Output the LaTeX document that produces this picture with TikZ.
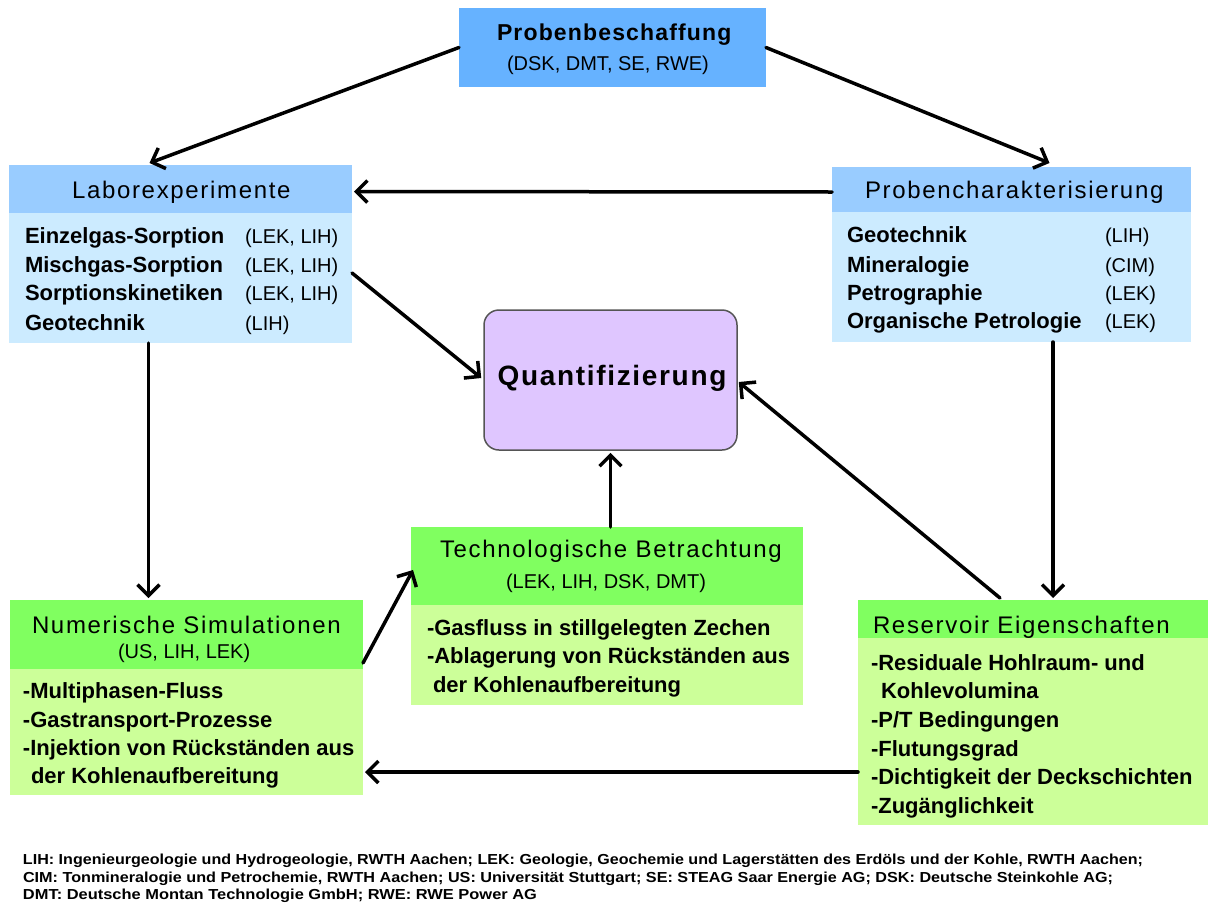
\documentclass[tikz,border=0pt]{standalone}
\usepackage{fontspec}
\setmainfont{Liberation Sans}
\newfontfamily\ttlfont[LetterSpace=7]{Liberation Sans}
\newfontfamily\pbfont[LetterSpace=5]{Liberation Sans}
\newfontfamily\qfont[LetterSpace=6]{Liberation Sans}
\usetikzlibrary{arrows.meta,calc}
\definecolor{pbblue}{HTML}{66B2FF}
\definecolor{hdrblue}{HTML}{99CCFF}
\definecolor{bodyblue}{HTML}{CCEBFF}
\definecolor{hdrgreen}{HTML}{80FF60}
\definecolor{bodygreen}{HTML}{CCFF99}
\definecolor{qfill}{HTML}{DFC6FF}
\definecolor{qborder}{HTML}{555555}
\tikzset{
  box/.style={rectangle, draw=none, inner sep=0pt, outer sep=0pt},
  txt/.style={anchor=base west, inner sep=0pt, outer sep=0pt},
  ttl/.style={txt, font=\ttlfont\fontsize{24}{28}\selectfont},
  sub/.style={txt, font=\fontsize{20}{24}\selectfont},
  itm/.style={txt, font=\bfseries\fontsize{22}{26}\selectfont},
  foot/.style={txt, font=\bfseries\fontsize{14}{16}\selectfont},
  arr/.style={line width=3.5pt, line cap=round, -{Straight Barb[length=11pt,width=22pt,line width=3.5pt]}}
}
\begin{document}
\begin{tikzpicture}[x=1pt,y=-1pt]
\useasboundingbox (0,0) rectangle (1208,908);
\fill[white] (0,0) rectangle (1208,908);

% Probenbeschaffung
\node[box, fill=pbblue, minimum width=307pt, minimum height=79pt] (pb) at (612.5,47.5) {};
\node[txt, font=\pbfont\bfseries\fontsize{23}{26}\selectfont] (pbt) at (497,40) {Probenbeschaffung};
\node[sub] (pbs) at (507,70) {(DSK, DMT, SE, RWE)};

% Laborexperimente
\node[box, fill=hdrblue, minimum width=343pt, minimum height=48pt] (labH) at (180.5,189) {};
\node[box, fill=bodyblue, minimum width=343pt, minimum height=130pt] (labB) at (180.5,278) {};
\node[ttl] (labt) at (72,198) {Laborexperimente};
\node[itm] (lab1) at (25,243) {Einzelgas-Sorption};
\node[itm] (lab2) at (25,272) {Mischgas-Sorption};
\node[itm] (lab3) at (25,300) {Sorptionskinetiken};
\node[itm] (lab4) at (25,330) {Geotechnik};
\node[sub] (lab1p) at (245,243) {(LEK, LIH)};
\node[sub] (lab2p) at (245,272) {(LEK, LIH)};
\node[sub] (lab3p) at (245,300) {(LEK, LIH)};
\node[sub] (lab4p) at (245,330) {(LIH)};

% Probencharakterisierung
\node[box, fill=hdrblue, minimum width=359pt, minimum height=45pt] (pcH) at (1011.5,189.5) {};
\node[box, fill=bodyblue, minimum width=359pt, minimum height=130pt] (pcB) at (1011.5,277) {};
\node[ttl] (pct) at (865,198) {Probencharakterisierung};
\node[itm] (pc1) at (847,242) {Geotechnik};
\node[itm] (pc2) at (847,272) {Mineralogie};
\node[itm] (pc3) at (847,300) {Petrographie};
\node[itm] (pc4) at (847,328) {Organische Petrologie};
\node[sub] (pc1p) at (1105,242) {(LIH)};
\node[sub] (pc2p) at (1105,272) {(CIM)};
\node[sub] (pc3p) at (1105,300) {(LEK)};
\node[sub] (pc4p) at (1105,328) {(LEK)};

% Quantifizierung
\node[rectangle, rounded corners=15pt, draw=qborder, line width=1.5pt, fill=qfill,
      minimum width=253pt, minimum height=140pt, inner sep=0pt] (q) at (610.5,380) {};
\node[inner sep=0pt, font=\qfont\bfseries\fontsize{28}{30}\selectfont] (qt) at (612,378) {Quantifizierung};

% Technologische Betrachtung
\node[box, fill=hdrgreen, minimum width=392pt, minimum height=78pt] (tbH) at (607,566) {};
\node[box, fill=bodygreen, minimum width=392pt, minimum height=100pt] (tbB) at (607,655) {};
\node[ttl] (tbt) at (440,557) {Technologische Betrachtung};
\node[sub] (tbs) at (506,588) {(LEK, LIH, DSK, DMT)};
\node[itm] (tb1) at (427,635) {-Gasfluss in stillgelegten Zechen};
\node[itm] (tb2) at (427,663) {-Ablagerung von Rückständen aus};
\node[itm] (tb3) at (433,692) {der Kohlenaufbereitung};

% Numerische Simulationen
\node[box, fill=hdrgreen, minimum width=353pt, minimum height=69pt] (nsH) at (186.5,634.5) {};
\node[box, fill=bodygreen, minimum width=353pt, minimum height=126pt] (nsB) at (186.5,732) {};
\node[ttl] (nst) at (32,633) {Numerische Simulationen};
\node[sub] (nss) at (118,658) {(US, LIH, LEK)};
\node[itm] (ns1) at (23,698) {-Multiphasen-Fluss};
\node[itm] (ns2) at (23,727) {-Gastransport-Prozesse};
\node[itm] (ns3) at (23,755) {-Injektion von Rückständen aus};
\node[itm] (ns4) at (31,783) {der Kohlenaufbereitung};

% Reservoir Eigenschaften
\node[box, fill=hdrgreen, minimum width=350pt, minimum height=38pt] (reH) at (1033,619) {};
\node[box, fill=bodygreen, minimum width=350pt, minimum height=187pt] (reB) at (1033,731.5) {};
\node[ttl] (ret) at (873,633) {Reservoir Eigenschaften};
\node[itm] (re1) at (871,670) {-Residuale Hohlraum- und};
\node[itm] (re2) at (881,698) {Kohlevolumina};
\node[itm] (re3) at (871,727) {-P/T Bedingungen};
\node[itm] (re4) at (871,756) {-Flutungsgrad};
\node[itm] (re5) at (871,784) {-Dichtigkeit der Deckschichten};
\node[itm] (re6) at (871,813) {-Zugänglichkeit};

% Arrows
\draw[arr] (pb.west) -- ($(labH.north)+(-31,-2)$);
\draw[arr] (pb.east) -- ($(pcH.north)+(38,-4)$);
\draw[arr] ($(pcH.west)+(0,2.5)$) -- ($(labH.east)+(2,2.5)$);
\draw[arr] ($(labB.east)+(0,-5)$) -- ($(q.west)+(-2,-2)$);
\draw[arr] ($(reH.north)+(-33,-2)$) -- ($(q.east)+(1,2)$);
\draw[arr] (tbH.north -| q.south) -- ($(q.south)+(0,2)$);
\draw[arr] ($(labB.south)+(-32,0)$) -- ($(nsH.north)+(-38,-2)$);
\draw[arr] ($(pcB.south)+(41.5,0)$) -- ($(reH.north)+(20,-2)$);
\draw[arr] ($(nsH.east)+(0,28.5)$) -- ($(tbH.west)+(2,4)$);
\coordinate (reArr) at ($(reB.west)+(0,40.5)$);
\draw[arr] (reArr) -- ($(reArr -| nsB.east)+(2,0)$);

% Footer
\node[foot] (f1) at (23,864) {\resizebox{1120pt}{10.5pt}{LIH: Ingenieurgeologie und Hydrogeologie, RWTH Aachen; LEK: Geologie, Geochemie und Lagerstätten des Erdöls und der Kohle, RWTH Aachen;}};
\node[foot] (f2) at (23,882) {\resizebox{1090pt}{10.5pt}{CIM: Tonmineralogie und Petrochemie, RWTH Aachen; US: Universität Stuttgart; SE: STEAG Saar Energie AG; DSK: Deutsche Steinkohle AG;}};
\node[foot] (f3) at (23,899) {\resizebox{514pt}{10.5pt}{DMT: Deutsche Montan Technologie GmbH; RWE: RWE Power AG}};
\end{tikzpicture}
\end{document}
